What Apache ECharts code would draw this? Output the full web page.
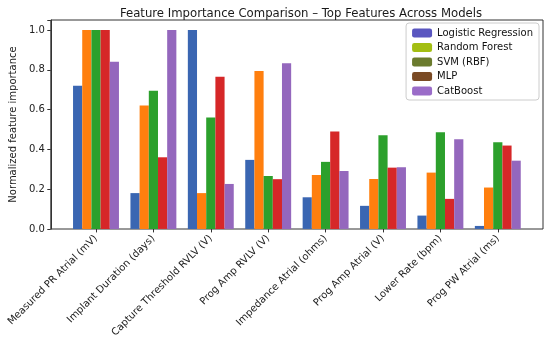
<!DOCTYPE html>
<html><head><meta charset="utf-8">
<script src="https://cdn.jsdelivr.net/npm/echarts@6/dist/echarts.min.js"></script>
<style>html,body{margin:0;padding:0;background:#fff}#c{width:550px;height:340px}</style>
</head><body><div id="c"></div>
<script>
var categories = ["Measured PR Atrial (mV)", "Implant Duration (days)", "Capture Threshold RVLV (V)", "Prog Amp RVLV (V)", "Impedance Atrial (ohms)", "Prog Amp Atrial (V)", "Lower Rate (bpm)", "Prog PW Atrial (ms)"];
var seriesNames = ["Logistic Regression", "Random Forest", "SVM (RBF)", "MLP", "CatBoost"];
var logisticRegression = [0.72, 0.18, 1.00, 0.347, 0.159, 0.116, 0.067, 0.015];
var randomForest       = [1.00, 0.62, 0.18, 0.794, 0.271, 0.251, 0.283, 0.208];
var svmRbf             = [1.00, 0.695, 0.56, 0.266, 0.337, 0.471, 0.486, 0.436];
var mlp                = [1.00, 0.36, 0.765, 0.25, 0.489, 0.308, 0.151, 0.419];
var catBoost           = [0.84, 1.00, 0.226, 0.833, 0.291, 0.31, 0.451, 0.343];
var yTicks = [0.0, 0.2, 0.4, 0.6, 0.8, 1.0];

var barColors = ["#3a66b2", "#ff7f0e", "#2ca02c", "#d62728", "#9467bd"];
var legendColors = ["#5a56c0", "#a3be12", "#6b7b2e", "#7a4a24", "#9a6cc8"];
var allValues = [logisticRegression, randomForest, svmRbf, mlp, catBoost];

var FONT = "DejaVu Sans";
var chart = echarts.init(document.getElementById('c'), null, {renderer: 'canvas'});
var series = seriesNames.map(function (n, i) {
  return {
    name: n, type: 'bar', xAxisIndex: 1, yAxisIndex: 1,
    data: allValues[i], barWidth: '16%', barGap: '0%',
    itemStyle: {color: barColors[i]}, animation: false
  };
});
chart.setOption({
  animation: false,
  textStyle: {fontFamily: FONT},
  title: {
    text: "Feature Importance Comparison \u2013 Top Features Across Models",
    left: 296, top: 3, textAlign: 'center',
    textStyle: {fontFamily: FONT, fontSize: 11.7, fontWeight: 'normal', color: '#1a1a1a'}
  },
  legend: {
    data: seriesNames.map(function (n, i) { return {name: n, itemStyle: {color: legendColors[i]}}; }),
    orient: 'vertical', right: 11, top: 23,
    itemWidth: 20, itemHeight: 9, itemGap: 4.5,
    backgroundColor: 'rgba(255,255,255,0.85)', borderColor: '#ccc', borderWidth: 1, borderRadius: 3,
    padding: [5, 6, 4, 6],
    textStyle: {fontFamily: FONT, fontSize: 10, color: '#111'}
  },
  grid: [
    {left: 50, top: 20, width: 493, height: 209, show: true, borderColor: '#333', borderWidth: 1, backgroundColor: 'transparent'},
    {left: 67.3, top: 20, width: 459.2, height: 209}
  ],
  xAxis: [
    {gridIndex: 0, type: 'value', min: 0, max: 1, show: false},
    {gridIndex: 1, type: 'category', data: categories, boundaryGap: true,
     axisLine: {show: false},
     axisTick: {show: true, alignWithLabel: true, length: 3.5, lineStyle: {color: '#333'}},
     axisLabel: {rotate: 45, fontFamily: FONT, fontSize: 10, color: '#222', margin: 8, interval: 0}}
  ],
  yAxis: [
    {gridIndex: 0, type: 'value', min: 0, max: 1.05, interval: 0.2,
     name: 'Normalized feature importance', nameLocation: 'middle', nameGap: 31,
     nameTextStyle: {fontFamily: FONT, fontSize: 10, color: '#222'},
     axisLine: {show: true, lineStyle: {color: '#333'}},
     axisTick: {show: true, length: 3.5, lineStyle: {color: '#333'}},
     splitLine: {show: false},
     axisLabel: {fontFamily: FONT, fontSize: 10, color: '#222', margin: 6,
       customValues: yTicks,
       formatter: function (v) { return v.toFixed(1); }}},
    {gridIndex: 1, type: 'value', min: 0, max: 1.05, show: false, splitLine: {show: false}}
  ],
  series: series
});
</script></body></html>
